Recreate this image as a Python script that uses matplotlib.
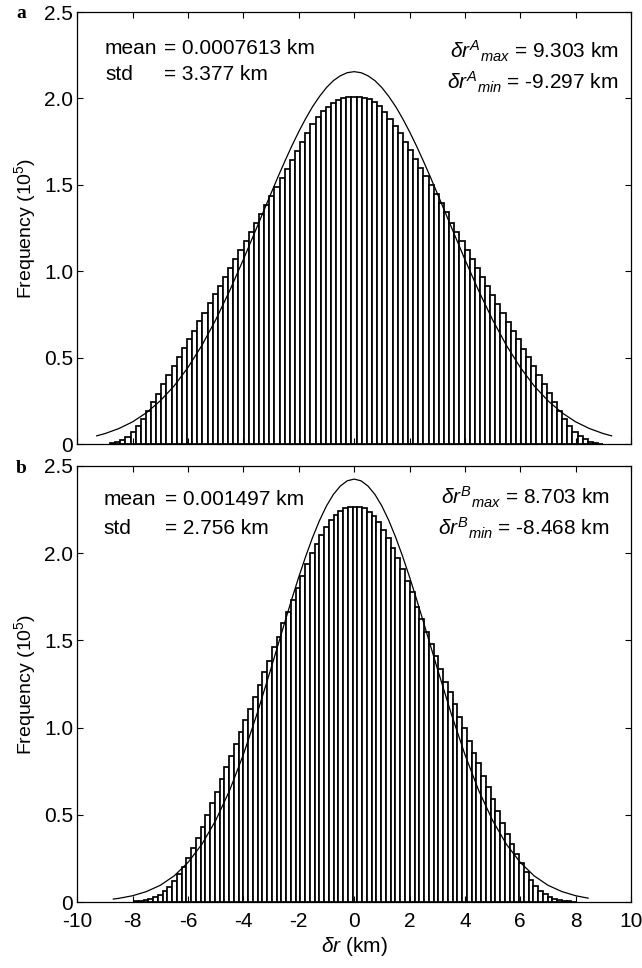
import numpy as np
import matplotlib
matplotlib.use('Agg')
import matplotlib.pyplot as plt

plt.rcParams['font.family'] = ['Liberation Sans', 'DejaVu Sans']
plt.rcParams['mathtext.fontset'] = 'custom'
plt.rcParams['mathtext.rm'] = 'Liberation Sans'
plt.rcParams['mathtext.it'] = 'Liberation Sans:italic'
plt.rcParams['axes.unicode_minus'] = False

# panel a histogram (counts in 1e5), bins of width 0.1856 km starting at -8.82 km
first_edge_a = -8.82
bin_width_a = 0.1856
heights_a = [0.006, 0.011, 0.025, 0.044, 0.073, 0.105, 0.148, 0.193, 0.243, 0.293,
             0.347, 0.398, 0.452, 0.504, 0.556, 0.607, 0.657, 0.711, 0.762, 0.816,
             0.868, 0.918, 0.967, 1.021, 1.073, 1.125, 1.178, 1.228, 1.280, 1.332,
             1.384, 1.436, 1.488, 1.540, 1.592, 1.644, 1.696, 1.748, 1.800, 1.851,
             1.894, 1.927, 1.951, 1.974, 1.993, 2.005, 2.009, 2.009, 2.009, 2.005,
             1.995, 1.980, 1.955, 1.923, 1.884, 1.842, 1.798, 1.750, 1.700, 1.650,
             1.600, 1.549, 1.499, 1.447, 1.394, 1.343, 1.280, 1.228, 1.174, 1.123,
             1.071, 1.017, 0.966, 0.914, 0.864, 0.812, 0.760, 0.709, 0.657, 0.607,
             0.554, 0.504, 0.452, 0.400, 0.349, 0.295, 0.245, 0.195, 0.147, 0.107,
             0.073, 0.048, 0.029, 0.015, 0.008, 0.004]

# panel a normal curve
curve_x_a = [-9.3, -9.0, -8.5, -8.0, -7.5, -7.0, -6.5, -6.0, -5.5, -5.0, -4.5, -4.0,
             -3.5, -3.0, -2.75, -2.5, -2.25, -2.0, -1.75, -1.5, -1.25, -1.0, -0.75,
             -0.5, -0.25, 0.0, 0.25, 0.5, 0.75, 1.0, 1.25, 1.5, 1.75, 2.0, 2.25, 2.5,
             2.75, 3.0, 3.5, 4.0, 4.5, 5.0, 5.5, 6.0, 6.5, 7.0, 7.5, 8.0, 8.5, 9.0, 9.3]
curve_y_a = [0.049, 0.062, 0.091, 0.130, 0.183, 0.252, 0.338, 0.445, 0.572, 0.720, 0.887, 1.069,
             1.260, 1.452, 1.547, 1.638, 1.726, 1.808, 1.884, 1.953, 2.012, 2.063, 2.103,
             2.131, 2.149, 2.155, 2.149, 2.131, 2.103, 2.063, 2.012, 1.953, 1.884, 1.808, 1.726, 1.638,
             1.547, 1.452, 1.260, 1.069, 0.887, 0.720, 0.572, 0.445, 0.338, 0.252, 0.183, 0.130, 0.091, 0.062, 0.049]

# panel b histogram
first_edge_b = -7.95
bin_width_b = 0.1717
heights_b = [0.004, 0.006, 0.010, 0.017, 0.027, 0.040, 0.061, 0.088, 0.120, 0.161,
             0.203, 0.252, 0.308, 0.367, 0.428, 0.499, 0.570, 0.629, 0.707, 0.772,
             0.837, 0.906, 0.977, 1.044, 1.107, 1.174, 1.244,
             1.317, 1.384, 1.460, 1.521, 1.602, 1.665, 1.732, 1.799, 1.869, 1.938,
             1.999, 2.051, 2.104, 2.148, 2.190, 2.219, 2.244, 2.257, 2.267, 2.267,
             2.267, 2.257, 2.238, 2.212, 2.178, 2.135, 2.086, 2.031, 1.972, 1.908,
             1.842, 1.775, 1.690, 1.620, 1.550, 1.480, 1.410, 1.335,
             1.263, 1.206, 1.135, 1.063, 0.996, 0.925, 0.856, 0.795, 0.724, 0.661,
             0.589, 0.524, 0.455, 0.388, 0.331, 0.275, 0.222, 0.174, 0.126, 0.092,
             0.063, 0.044, 0.029, 0.017, 0.010, 0.006, 0.004, 0.002]

curve_x_b = [-8.7, -8.5, -8.0, -7.5, -7.0, -6.5, -6.0, -5.5, -5.0, -4.5, -4.0, -3.5,
             -3.0, -2.75, -2.5, -2.25, -2.0, -1.75, -1.5, -1.25, -1.0, -0.75, -0.5, -0.25,
             0.0, 0.25, 0.5, 0.75, 1.0, 1.25, 1.5, 1.75, 2.0, 2.25, 2.5, 2.75, 3.0,
             3.5, 4.0, 4.5, 5.0, 5.5, 6.0, 6.5, 7.0, 7.5, 8.0, 8.45]
curve_y_b = [0.017, 0.021, 0.036, 0.060, 0.096, 0.150, 0.227, 0.331, 0.468, 0.639, 0.846, 1.083,
             1.341, 1.474, 1.607, 1.738, 1.864, 1.982, 2.091, 2.188, 2.271, 2.337, 2.385, 2.415,
             2.425, 2.415, 2.385, 2.337, 2.271, 2.188, 2.091, 1.982, 1.864, 1.738, 1.607, 1.474, 1.341,
             1.083, 0.846, 0.639, 0.468, 0.331, 0.227, 0.150, 0.096, 0.060, 0.036, 0.022]

stats_a = ['0.0007613', '3.377', '9.303', '-9.297']
stats_b = ['0.001497', '2.756', '8.703', '-8.468']

W, H = 642, 968
fig = plt.figure(figsize=(W / 100, H / 100), dpi=100)


def px_box(left, top, right, bottom):
    return [left / W, 1 - bottom / H, (right - left) / W, (bottom - top) / H]


ax_a = fig.add_axes(px_box(77.3, 12, 631, 444.3))
ax_b = fig.add_axes(px_box(77.3, 466, 631, 902))


def draw_panel(ax, first_edge, width, heights, cx, cy, stats, sup, ytxt, right_x, left_x, eq_x):
    edges = first_edge + width * np.arange(len(heights))
    ax.bar(edges, heights, width=width, align='edge', color='white',
           edgecolor='black', linewidth=1.25)
    ax.plot(cx, cy, color='black', linewidth=0.9)
    ax.set_xlim(-10, 10)
    ax.set_ylim(0, 2.5)
    ax.set_xticks(np.arange(-10, 11, 2))
    ax.set_yticks([0, 0.5, 1.0, 1.5, 2.0, 2.5])
    ax.set_yticklabels(['0', '0.5', '1.0', '1.5', '2.0', '2.5'])
    ax.tick_params(direction='in', top=True, right=True, length=4, width=0.8,
                   labelsize=15)
    ax.tick_params(axis='y', pad=3)
    ax.tick_params(axis='x', pad=7)
    for s in ax.spines.values():
        s.set_linewidth(0.9)
    ax.set_ylabel('Frequency (10$^5$)', fontsize=14, labelpad=4)
    fs = 15
    ax.text(left_x, ytxt[0], 'mean', fontsize=fs, va='center')
    ax.text(eq_x, ytxt[0], '= ' + stats[0] + ' km', fontsize=fs, va='center')
    ax.text(left_x, ytxt[1], 'std', fontsize=fs, va='center')
    ax.text(eq_x, ytxt[1], '= ' + stats[1] + ' km', fontsize=fs, va='center')
    ax.text(right_x, ytxt[2], r'$\delta r^{%s}{}_{max}$ = %s km' % (sup, stats[2]),
            fontsize=fs, va='center', ha='right')
    ax.text(right_x, ytxt[3], r'$\delta r^{%s}{}_{min}$ = %s km' % (sup, stats[3]),
            fontsize=fs, va='center', ha='right')


draw_panel(ax_a, first_edge_a, bin_width_a, heights_a, curve_x_a, curve_y_a, stats_a, 'A',
           [2.29, 2.14, 2.27, 2.09], 9.55, -9.0, -6.87)
draw_panel(ax_b, first_edge_b, bin_width_b, heights_b, curve_x_b, curve_y_b, stats_b, 'B',
           [2.31, 2.14, 2.32, 2.14], 9.23, -9.04, -6.85)

ax_a.set_xticklabels([])
ax_b.set_xlabel(r'$\delta r$ (km)', fontsize=15, labelpad=3)

fig.text(16 / W, 1 - 14 / H, 'a', fontsize=14, fontweight='bold',
         family='Liberation Serif', va='center')
fig.text(16 / W, 1 - 468 / H, 'b', fontsize=14, fontweight='bold',
         family='Liberation Serif', va='center')

fig.savefig('out.png', dpi=100)
